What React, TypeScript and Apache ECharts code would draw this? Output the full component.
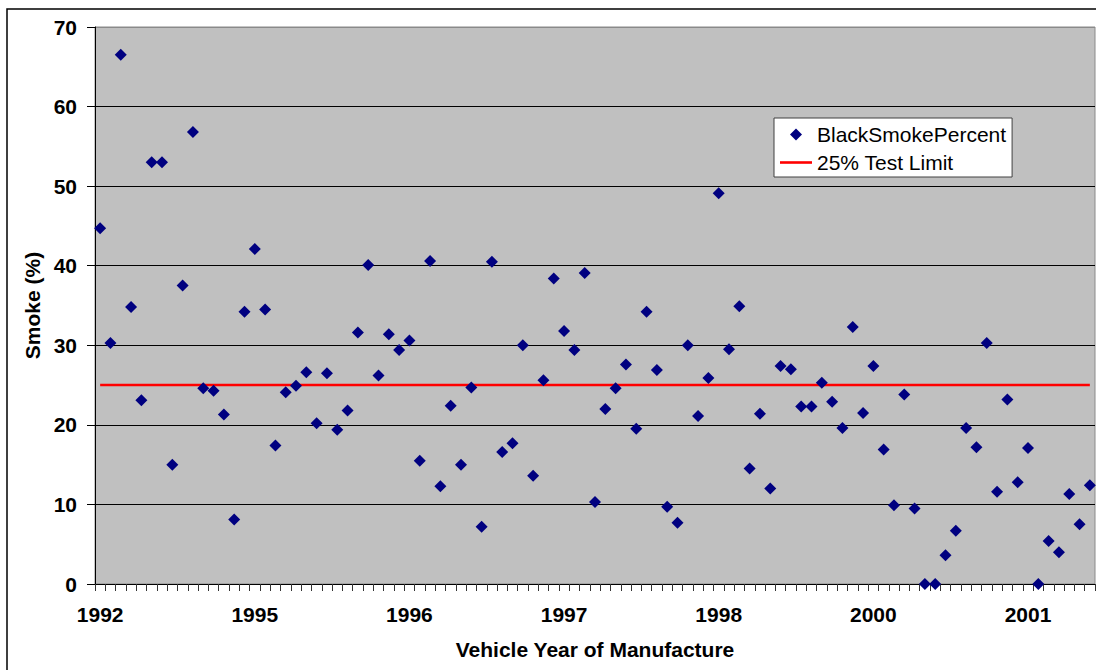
import React, { useEffect, useRef } from "react";
import * as echarts from "echarts";

const years: string[] = [
  "1992", "1992", "1992", "1992", "1992", "1993", "1993", "1993", "1993", "1993",
  "1994", "1994", "1994", "1994", "1994", "1995", "1995", "1995", "1995", "1995",
  "1995", "1995", "1995", "1995", "1995", "1995", "1995", "1995", "1995", "1995",
  "1996", "1996", "1996", "1996", "1996", "1996", "1996", "1996", "1996", "1996",
  "1996", "1996", "1996", "1996", "1996", "1997", "1997", "1997", "1997", "1997",
  "1997", "1997", "1997", "1997", "1997", "1997", "1997", "1997", "1997", "1997",
  "1998", "1998", "1998", "1998", "1998", "1998", "1998", "1998", "1998", "1998",
  "1999", "1999", "1999", "1999", "1999", "2000", "2000", "2000", "2000", "2000",
  "2000", "2000", "2000", "2000", "2000", "2000", "2000", "2000", "2000", "2000",
  "2001", "2001", "2001", "2001", "2001", "2001", "2001",
];

const blackSmokePercent: number[] = [
  44.7, 30.3, 66.5, 34.8, 23.1, 53.0, 53.0, 15.0, 37.5, 56.8,
  24.6, 24.3, 21.3, 8.1, 34.2, 42.1, 34.5, 17.4, 24.1, 24.9,
  26.6, 20.2, 26.5, 19.4, 21.8, 31.6, 40.1, 26.2, 31.4, 29.4,
  30.6, 15.5, 40.6, 12.3, 22.4, 15.0, 24.7, 7.2, 40.5, 16.6,
  17.7, 30.0, 13.6, 25.6, 38.4, 31.8, 29.4, 39.1, 10.3, 22.0,
  24.6, 27.6, 19.5, 34.2, 26.9, 9.7, 7.7, 30.0, 21.1, 25.9,
  49.1, 29.5, 34.9, 14.5, 21.4, 12.0, 27.4, 27.0, 22.3, 22.3,
  25.3, 22.9, 19.6, 32.3, 21.5, 27.4, 16.9, 9.9, 23.8, 9.5,
  0, 0, 3.6, 6.7, 19.6, 17.2, 30.3, 11.6, 23.2, 12.8,
  17.1, 0, 5.4, 4.0, 11.3, 7.5, 12.4,
];

const TEST_LIMIT = 25;
const testLimit: number[] = years.map(() => TEST_LIMIT);

const SERIES_SMOKE = "BlackSmokePercent";
const SERIES_LIMIT = "25% Test Limit";
const X_NAME = "Vehicle Year of Manufacture";
const Y_NAME = "Smoke (%)";

const FONT = "'Liberation Sans', Arial, sans-serif";

export default function App() {
  const ref = useRef<HTMLDivElement>(null);

  useEffect(() => {
    if (!ref.current) return;
    const chart = echarts.init(ref.current, null, { renderer: "svg" });
    const boldText = { fontSize: 21, fontWeight: "bold" as const, color: "#000", fontFamily: FONT };
    chart.setOption({
      animation: false,
      backgroundColor: "#fff",
      textStyle: { fontFamily: FONT },
      graphic: [
        {
          type: "rect",
          shape: { x: 7, y: 9, width: 1300, height: 900 },
          style: { fill: "none", stroke: "#000", lineWidth: 1.5 },
          silent: true,
          z: 0,
        },
      ],
      grid: {
        left: 95,
        top: 27,
        width: 1000,
        height: 557,
        show: true,
        backgroundColor: "#C0C0C0",
        borderColor: "#8a8a8a",
        borderWidth: 1,
        containLabel: false,
        outerBoundsMode: "none",
      },
      legend: {
        orient: "vertical",
        left: 774,
        top: 118,
        padding: [6, 6, 4, 6],
        itemGap: 7,
        itemWidth: 32,
        itemHeight: 12,
        symbolKeepAspect: true,
        backgroundColor: "#fff",
        borderColor: "#404040",
        borderWidth: 1,
        borderRadius: 0,
        textStyle: { fontSize: 21, color: "#000", fontFamily: FONT },
        data: [
          {
            name: SERIES_SMOKE,
            icon: "path://M6 0L12 6L6 12L0 6Z",
            itemStyle: { color: "#000080", opacity: 1 },
          },
          {
            name: SERIES_LIMIT,
            icon: "path://M0 0H32V2.6H0Z",
            itemStyle: { color: "#FF0000", opacity: 1 },
          },
        ],
      },
      xAxis: {
        type: "category",
        data: years,
        boundaryGap: true,
        axisLine: { show: true, lineStyle: { color: "#000", width: 1 } },
        axisTick: { show: true, interval: 0, length: 7, lineStyle: { color: "#333" } },
        axisLabel: { ...boldText, interval: 14, margin: 20 },
        splitLine: { show: false },
        name: X_NAME,
        nameLocation: "middle",
        nameGap: 55,
        nameTextStyle: boldText,
      },
      yAxis: {
        type: "value",
        min: 0,
        max: 70,
        interval: 10,
        axisLine: { show: true, lineStyle: { color: "#000", width: 1 } },
        axisTick: { show: true, length: 8, lineStyle: { color: "#000" } },
        axisLabel: { ...boldText, margin: 18 },
        splitLine: {
          show: true,
          lineStyle: {
            color: ["#000", "#000", "#000", "#000", "#000", "#000", "#000", "#8a8a8a"],
            width: 1,
          },
        },
        name: Y_NAME,
        nameLocation: "middle",
        nameGap: 52,
        nameTextStyle: boldText,
      },
      series: [
        {
          name: SERIES_SMOKE,
          type: "scatter",
          data: blackSmokePercent,
          symbol: "diamond",
          symbolSize: 12,
          itemStyle: { color: "#000080", opacity: 1 },
          z: 4,
        },
        {
          name: SERIES_LIMIT,
          type: "line",
          data: testLimit,
          symbol: "none",
          showSymbol: false,
          lineStyle: { color: "#FF0000", width: 2.5 },
          itemStyle: { color: "#FF0000" },
          z: 3,
        },
      ],
    });
    return () => chart.dispose();
  }, []);

  return (
    <div
      ref={ref}
      style={{ position: "absolute", left: 0, top: 0, width: 1096, height: 670 }}
    />
  );
}
